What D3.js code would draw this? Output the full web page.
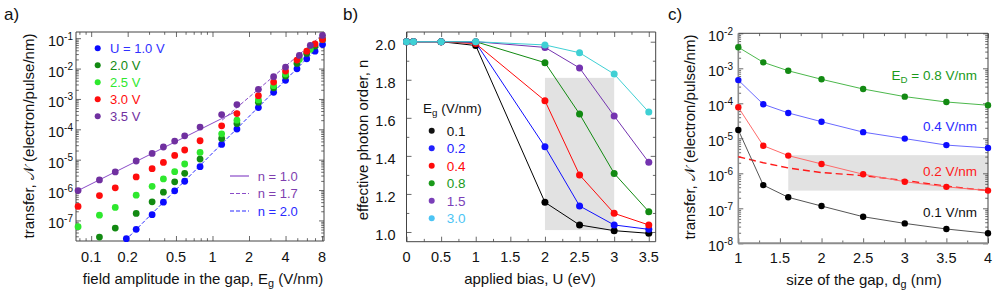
<!DOCTYPE html>
<html><head><meta charset="utf-8">
<script src="https://cdn.jsdelivr.net/npm/d3@7/dist/d3.min.js"></script>
<style>
body{margin:0;background:#fff}
text{font-family:"Liberation Sans",Arial,sans-serif}
</style>
</head><body>
<svg id="fig" width="996" height="297"></svg>
<script>
// ---------- Panel a data : transfer vs field amplitude ----------
const E_U10 = [0.195,0.235,0.318,0.394,0.488,0.59,0.79,1.19,1.59,2.39,3.19,4.0,4.97,5.98,7.0,8.07];
const N_U10 = [2.5e-8,5.07e-8,1.54e-7,3.98e-7,9.4e-7,1.95e-6,5.9e-6,3.18e-5,1.02e-4,5.2e-4,1.66e-3,4.1e-3,9.8e-3,2.1e-2,3.75e-2,6.2e-2];
const E_U20 = [0.117,0.158,0.235,0.318,0.394,0.488,0.59,0.79,1.19,1.59,2.39,3.19,4.0,4.97,5.98,7.0,8.07];
const N_U20 = [2.83e-8,5.6e-8,1.7e-7,4.1e-7,8.5e-7,1.86e-6,3.56e-6,1.05e-5,5.0e-5,1.55e-4,7.8e-4,2.34e-3,5.7e-3,1.48e-2,3.15e-2,5.5e-2,9.1e-2];
const E_U25 = [0.078,0.117,0.158,0.235,0.318,0.394,0.488,0.59,0.79,1.19,1.59,2.39,3.19,4.0,5.2,6.4,8.07];
const N_U25 = [6.2e-8,1.49e-7,2.67e-7,6.8e-7,1.33e-6,2.33e-6,4.04e-6,7.2e-6,1.73e-5,7.1e-5,2.0e-4,9.3e-4,2.73e-3,6.6e-3,2.0e-2,4.27e-2,9.06e-2];
const E_U30 = [0.078,0.117,0.158,0.235,0.318,0.394,0.488,0.59,0.79,1.19,1.59,2.39,3.19,4.0,4.97,5.98,7.0,8.07];
const N_U30 = [2.88e-7,6.6e-7,1.18e-6,2.71e-6,5.07e-6,8.15e-6,1.38e-5,2.08e-5,4.2e-5,1.3e-4,3.3e-4,1.28e-3,3.6e-3,8.3e-3,1.9e-2,3.75e-2,6.5e-2,9.06e-2];
const E_U35 = [0.078,0.117,0.158,0.235,0.318,0.394,0.488,0.59,0.79,1.19,1.59,2.39,3.19,4.0,5.2,6.4,8.07];
const N_U35 = [9.6e-7,2.16e-6,3.95e-6,9.06e-6,1.61e-5,2.61e-5,4.1e-5,6.1e-5,1.18e-4,3.05e-4,6.5e-4,2.08e-3,5.4e-3,1.12e-2,2.71e-2,5.77e-2,0.123];
const legendA = ["U = 1.0 V","2.0 V","2.5 V","3.0 V","3.5 V"];
// power-law guide lines (end points)
const fitN10_E = [0.075,1.6],  fitN10_N = [8.9e-7,4.07e-4];
const fitN17_E = [1.2,8.3],    fitN17_N = [2.0e-4,0.144];
const fitN20_E = [0.19,8.3],   fitN20_N = [2.15e-8,7.8e-2];
const fitLabels = ["n = 1.0","n = 1.7","n = 2.0"];
const xTicksA = [0.1,0.2,0.5,1,2,4,8];
const yExpA = [-7,-6,-5,-4,-3,-2,-1];

// ---------- Panel b data : effective photon order vs bias ----------
const biasU = [0,0.1,0.5,1,2,2.5,3,3.5];
const n_E01 = [2.0,2.0,2.0,1.98,1.156,1.037,1.007,0.993];
const n_E02 = [2.0,2.0,2.0,1.995,1.448,1.137,1.037,1.014];
const n_E04 = [2.0,2.0,2.0,1.99,1.69,1.30,1.098,1.037];
const n_E08 = [2.0,2.0,2.0,2.0,1.89,1.62,1.308,1.107];
const n_E15 = [2.0,2.0,2.0,2.0,1.97,1.862,1.61,1.366];
const n_E30 = [2.0,2.0,2.0,2.0,1.983,1.942,1.83,1.63];
const legendB = ["0.1","0.2","0.4","0.8","1.5","3.0"];
const shadeB = {u:[2,3], n:[1.01,1.81]};
const xTicksB = [0,0.5,1,1.5,2,2.5,3,3.5];
const yTicksB = [1.0,1.2,1.4,1.6,1.8,2.0];

// ---------- Panel c data : transfer vs gap size ----------
const gapD = [1,1.3,1.6,2,2.5,3,3.5,4];
const Nc_E08 = [4.0e-3,1.48e-3,8.5e-4,4.85e-4,2.56e-4,1.55e-4,1.09e-4,8.8e-5];
const Nc_E04 = [4.6e-4,9.4e-5,5.3e-5,2.98e-5,1.5e-5,9.8e-6,6.4e-6,5.3e-6];
const Nc_E02 = [7.7e-5,6.15e-6,3.2e-6,1.85e-6,9.4e-7,5.75e-7,4.1e-7,3.2e-7];
const Nc_E01 = [1.73e-5,4.6e-7,2.06e-7,1.16e-7,5.75e-8,3.7e-8,2.56e-8,1.93e-8];
const Nc_E02dash = [2.98e-6,2.0e-6,1.42e-6,1.05e-6,8.6e-7,6.2e-7,4.3e-7,3.2e-7];
const labelsC = ["0.8 V/nm","0.4 V/nm","0.2 V/nm","0.1 V/nm"];
const shadeC = {d:[1.6,4], N:[3.2e-7,3.3e-6]};
const xTicksC = [1,1.5,2,2.5,3,3.5,4];
const yExpC = [-8,-7,-6,-5,-4,-3,-2];

// ---------- drawing ----------
const svg = d3.select("#fig");
const FS = 13;      // legend / annotation text
const TS = 14.5;    // tick labels
const TT = 15;      // axis titles
const AX = "#444";

function addText(g, x, y, str, opts={}) {
  return g.append("text").attr("x",x).attr("y",y).attr("font-size",opts.size||FS)
    .attr("fill",opts.color||"#111").attr("text-anchor",opts.anchor||"start").text(str);
}
function powLabel(g, x, y, exp) {
  const t = g.append("text").attr("x",x).attr("y",y).attr("font-size",TS).attr("fill","#111")
    .attr("text-anchor","end");
  t.append("tspan").text("10");
  t.append("tspan").attr("font-size",10).attr("dy",-6.5).text("-"+Math.abs(exp));
  return t;
}
function subText(g, x, y, parts, opts={}) {
  const size = opts.size||FS;
  const t = g.append("text").attr("x",x).attr("y",y).attr("font-size",size)
    .attr("fill",opts.color||"#111").attr("text-anchor",opts.anchor||"start");
  if (opts.rotate) t.attr("transform",`rotate(-90,${x},${y})`);
  let sub=false;
  parts.forEach(p=>{
    const s = t.append("tspan").text(p[0]);
    if (p[1] && !sub) {s.attr("font-size",size*0.72).attr("dy",3.5); sub=true;}
    else if (!p[1] && sub) {s.attr("dy",-3.5); sub=false;}
  });
  return t;
}
function frame(g, x, y, xMaj, xMin, yMaj, yMin, styles={}) {
  const [xa,xb]=x.range(), [ya,yb]=y.range();
  const mk = (axisFn, sc, vals, size, tr, col) => {
    const a = g.append("g").attr("transform",tr)
      .call(axisFn(sc).tickValues(vals).tickSize(size).tickFormat("").tickSizeOuter(0));
    a.select(".domain").remove();
    a.selectAll("line").attr("stroke",col||AX).attr("stroke-width",0.8);
  };
  const L=-5, l=-2.8;
  mk(d3.axisBottom, x, xMaj, L, `translate(0,${ya})`); mk(d3.axisBottom, x, xMin, l, `translate(0,${ya})`);
  mk(d3.axisTop, x, xMaj, L, `translate(0,${yb})`); mk(d3.axisTop, x, xMin, l, `translate(0,${yb})`);
  mk(d3.axisLeft, y, yMaj, L, `translate(${xa},0)`); mk(d3.axisLeft, y, yMin, l, `translate(${xa},0)`);
  mk(d3.axisRight, y, yMaj, L, `translate(${xb},0)`); mk(d3.axisRight, y, yMin, l, `translate(${xb},0)`);
  const line=(x1,y1,x2,y2,c,w)=>g.append("line").attr("x1",x1).attr("y1",y1).attr("x2",x2).attr("y2",y2)
      .attr("stroke",c).attr("stroke-width",w);
  line(xa,yb,xb,yb,styles.top||AX,styles.tw||1);
  line(xb,yb,xb,ya,styles.right||AX,styles.rw||1);
  line(xa,ya,xb,ya,styles.bottom||AX,styles.bw||1);
  line(xa,yb,xa,ya,styles.left||AX,styles.lw||1);
}
function logMinor(lo, hi, skip) {
  const out=[];
  for (let e=Math.floor(Math.log10(lo)); e<=Math.ceil(Math.log10(hi)); e++)
    for (let k=1;k<10;k++){const v=k*Math.pow(10,e); if(v>=lo&&v<=hi&&!(skip||[]).some(s=>Math.abs(s-v)/v<1e-9)) out.push(v);}
  return out;
}
const SCRIPT_N = "\uD835\uDCA9";

// ===== Panel a =====
{
  const g = svg.append("g");
  const x = d3.scaleLog().domain([0.075,8.3]).range([76,324]);
  const y = d3.scaleLog().domain([2.1e-8,0.16]).range([241,32]);
  const yMaj = yExpA.map(e=>Math.pow(10,e));
  frame(g, x, y, xTicksA, logMinor(0.075,8.3,xTicksA), yMaj, logMinor(2.1e-8,0.16,yMaj));
  xTicksA.forEach(v=>addText(g, x(v), 262, String(v), {anchor:"middle",size:TS}));
  yExpA.forEach(e=>powLabel(g, 73, y(Math.pow(10,e))+8, e));
  const ser = [
    {E:E_U10,N:N_U10,c:"#0a0aff",tc:"#3030ff"},
    {E:E_U20,N:N_U20,c:"#128a12",tc:"#128a12"},
    {E:E_U25,N:N_U25,c:"#2ee82e",tc:"#2ee82e"},
    {E:E_U30,N:N_U30,c:"#ff0d0d",tc:"#ff0d0d"},
    {E:E_U35,N:N_U35,c:"#7030a0",tc:"#7030a0"}];
  const lg = d3.line().x(d=>x(d[0])).y(d=>y(d[1]));
  const fits = [
    {E:fitN10_E,N:fitN10_N,c:"#8a4cc8",dash:null},
    {E:fitN17_E,N:fitN17_N,c:"#8a4cc8",dash:"4,2"},
    {E:fitN20_E,N:fitN20_N,c:"#2a2aff",dash:"4,2"}];
  fits.forEach(f=>g.append("path").attr("d",lg(d3.zip(f.E,f.N))).attr("fill","none")
      .attr("stroke",f.c).attr("stroke-width",1).attr("stroke-dasharray",f.dash));
  ser.forEach(s=>g.selectAll(null).data(d3.zip(s.E,s.N)).enter().append("circle")
      .attr("cx",d=>x(d[0])).attr("cy",d=>y(d[1])).attr("r",3.4).attr("fill",s.c));
  ser.forEach((s,i)=>{
    g.append("circle").attr("cx",97.7).attr("cy",48.3+17*i).attr("r",3).attr("fill",s.c);
    addText(g,110,48.3+17*i+4.6,legendA[i],{color:s.tc});
  });
  fits.forEach((f,i)=>{
    const yy = 176+17.5*i;
    g.append("line").attr("x1",230).attr("x2",249).attr("y1",yy).attr("y2",yy)
      .attr("stroke",f.c).attr("stroke-width",1.2).attr("stroke-dasharray",f.dash);
    addText(g,257.7,yy+4.6,fitLabels[i],{color:i<2?"#7f3fb0":"#2a2aff"});
  });
  subText(g, 203, 283.5, [["field amplitude in the gap, E"],["g",true],[" (V/nm)"]], {anchor:"middle",size:TT});
  subText(g, 34, 136, [["transfer, "],[SCRIPT_N],[" (electron/pulse/nm)"]], {anchor:"middle",rotate:true,size:TT});
  addText(g, 4, 20, "a)", {size:17});
}

// ===== Panel b =====
{
  const g = svg.append("g");
  const x = d3.scaleLinear().domain([0,3.6]).range([406.5,655.7]);
  const y = d3.scaleLinear().domain([0.949,2.051]).range([241.7,32]);
  g.append("rect").attr("x",x(shadeB.u[0])).attr("y",y(shadeB.n[1]))
    .attr("width",x(shadeB.u[1])-x(shadeB.u[0])).attr("height",y(shadeB.n[0])-y(shadeB.n[1])).attr("fill","#e2e2e2");
  const xMin = d3.range(0.25,3.6,0.5);
  const yMin = [1.1,1.3,1.5,1.7,1.9];
  frame(g, x, y, xTicksB, xMin, yTicksB, yMin);
  xTicksB.forEach(v=>addText(g, x(v), 262, String(v), {anchor:"middle",size:TS}));
  yTicksB.forEach(v=>addText(g, 395.5, y(v)+8, v.toFixed(1), {anchor:"end",size:TS}));
  const ser = [
    {n:n_E01,c:"#000000",tc:"#111"},
    {n:n_E02,c:"#1010ff",tc:"#2020ff"},
    {n:n_E04,c:"#ff0a0a",tc:"#ff0a0a"},
    {n:n_E08,c:"#118a11",tc:"#1a9a1a"},
    {n:n_E15,c:"#7433b0",tc:"#7a3fb8"},
    {n:n_E30,c:"#3fd0d4",tc:"#4cc4f4"}];
  const lg = d3.line().x(d=>x(d[0])).y(d=>y(d[1]));
  ser.forEach(s=>{
    const pts = d3.zip(biasU,s.n);
    g.append("path").attr("d",lg(pts)).attr("fill","none").attr("stroke",s.c).attr("stroke-width",1);
    g.selectAll(null).data(pts).enter().append("circle")
      .attr("cx",d=>x(d[0])).attr("cy",d=>y(d[1])).attr("r",3.5).attr("fill",s.c);
  });
  subText(g, 423, 112.5, [["E"],["g",true],[" (V/nm)"]], {size:FS+0.5});
  ser.forEach((s,i)=>{
    const yy = 130.7+17.5*i;
    g.append("circle").attr("cx",431.7).attr("cy",yy).attr("r",3).attr("fill",s.tc);
    addText(g,446.7,yy+4.8,legendB[i],{color:s.tc,size:FS+0.5});
  });
  addText(g, 530, 283.5, "applied bias, U (eV)", {anchor:"middle",size:TT});
  subText(g, 368, 140, [["effective photon order, n"]], {anchor:"middle",rotate:true,size:TT});
  addText(g, 343, 20, "b)", {size:17});
}

// ===== Panel c =====
{
  const g = svg.append("g");
  const x = d3.scaleLinear().domain([1,4]).range([738.3,988]);
  const y = d3.scaleLog().domain([1e-8,1e-2]).range([243.3,33.3]);
  g.append("rect").attr("x",x(shadeC.d[0])).attr("y",y(shadeC.N[1]))
    .attr("width",x(shadeC.d[1])-x(shadeC.d[0])).attr("height",y(shadeC.N[0])-y(shadeC.N[1])).attr("fill","#e2e2e2");
  const yMaj = yExpC.map(e=>Math.pow(10,e));
  frame(g, x, y, xTicksC, d3.range(1.25,4,0.5), yMaj, logMinor(1e-8,1e-2,yMaj),
        {left:"#8c8c8c",bottom:"#8c8c8c",lw:1.6,bw:2});
  xTicksC.forEach(v=>addText(g, x(v), 263, String(v), {anchor:"middle",size:TS}));
  yExpC.forEach(e=>powLabel(g, 733, y(Math.pow(10,e))+8, e));
  const ser = [
    {N:Nc_E08,c:"#138a13",lc:"#4cb84c"},
    {N:Nc_E04,c:"#0c0cff",lc:"#6a6aff"},
    {N:Nc_E02,c:"#ff0a0a",lc:"#ff6a6a"},
    {N:Nc_E01,c:"#000000",lc:"#555"}];
  const lg = d3.line().x(d=>x(d[0])).y(d=>y(d[1]));
  g.append("path").attr("d",lg(d3.zip(gapD,Nc_E02dash))).attr("fill","none")
    .attr("stroke","#ff1a1a").attr("stroke-width",1.4).attr("stroke-dasharray","7,4");
  ser.forEach(s=>{
    const pts = d3.zip(gapD,s.N);
    g.append("path").attr("d",lg(pts)).attr("fill","none").attr("stroke",s.lc).attr("stroke-width",1);
    g.selectAll(null).data(pts).enter().append("circle")
      .attr("cx",d=>x(d[0])).attr("cy",d=>y(d[1])).attr("r",3.2).attr("fill",s.c);
  });
  const lab = [{t:labelsC[0],c:"#1a9a1a",y:79.5,pre:true},{t:labelsC[1],c:"#2a2aff",y:131},
               {t:labelsC[2],c:"#ff1a1a",y:176},{t:labelsC[3],c:"#111",y:217}];
  lab.forEach(l=>{
    if (l.pre) subText(g, 977, l.y, [["E"],["D",true],[" = "+l.t]], {anchor:"end",color:l.c,size:FS+0.5});
    else addText(g, 977, l.y, l.t, {anchor:"end",color:l.c,size:FS+0.5});
  });
  subText(g, 864, 284.5, [["size of the gap, d"],["g",true],[" (nm)"]], {anchor:"middle",size:TT});
  subText(g, 695, 137, [["transfer, "],[SCRIPT_N],[" (electron/pulse/nm)"]], {anchor:"middle",rotate:true,size:TT});
  addText(g, 668, 20, "c)", {size:17});
}
</script>
</body></html>
